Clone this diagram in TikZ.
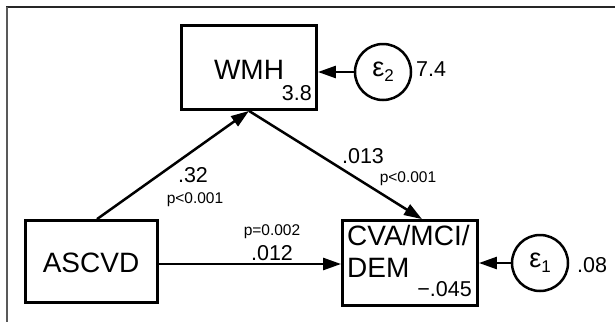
\documentclass[tikz,border=0pt]{standalone}
\usepackage{fontspec}
\setmainfont{Liberation Sans}
\usetikzlibrary{arrows.meta}
\begin{document}
\begin{tikzpicture}[x=1pt,y=-1pt,
  box/.style={draw, line width=2.8pt, inner sep=0pt},
  errc/.style={draw, circle, line width=2.5pt, inner sep=0pt, minimum size=56pt},
  lbl/.style={inner sep=0pt, font=\fontsize{28}{28}\selectfont},
  num/.style={inner sep=0pt, font=\fontsize{21.5}{21.5}\selectfont},
  pval/.style={inner sep=0pt, font=\fontsize{15.5}{15.5}\selectfont},
  arr/.style={line width=2.5pt, -{Triangle[length=18pt,width=12pt]}}]
\useasboundingbox (0,0) rectangle (615,322);
% frame
\draw[line width=2pt, black!85] (6,7) -- (615,7);
\draw[line width=2pt, black!65] (7,7) -- (7,322);
% boxes
\node[box, minimum width=135pt, minimum height=84pt] (wmh) at (249,67.5) {};
\node[box, minimum width=132pt, minimum height=82pt] (asc) at (91.5,261.5) {};
\node[box, minimum width=135pt, minimum height=85pt] (cva) at (410,263) {};
% box texts
\node[lbl, anchor=base] (tWMH) at (249,79) {WMH};
\node[num, anchor=base east] (v38) at (312,100) {3.8};
\node[lbl, anchor=base] (tASC) at (91,272) {ASCVD};
\node[lbl, anchor=base west] (tCVA1) at (347,245) {CVA/MCI/};
\node[lbl, anchor=base west] (tCVA2) at (347,277) {DEM};
\node[num, anchor=base east] (v045) at (472,296) {−.045};
% error terms
\node[errc] (e2) at (383,72) {\fontsize{27}{27}\selectfont ε\raisebox{-5pt}{\fontsize{17}{17}\selectfont 2}};
\node[errc] (e1) at (540,263) {\fontsize{27}{27}\selectfont ε\raisebox{-5pt}{\fontsize{17}{17}\selectfont 1}};
\node[num, anchor=base west] (v74) at (416,76) {7.4};
\node[num, anchor=base west] (v08) at (577,272) {.08};
% connectors
\draw[arr] ([xshift=5.5pt]asc.north) -- (wmh.south);
\draw[arr] (wmh.south) -- ([xshift=12pt]cva.north);
\draw[arr] ([yshift=-2.5pt]asc.east) -- ([yshift=-2.5pt]asc.east -| cva.west);
\draw[arr] (e2) -- (e2 -| wmh.east);
\draw[arr] (e1) -- (e1 -| cva.east);
% path labels
\node[num, anchor=base] (c32) at (193,182) {.32};
\node[pval, anchor=base] (p1) at (195,203) {p<0.001};
\node[num, anchor=base] (c013) at (363,163) {.013};
\node[pval, anchor=base] (p2) at (408,182) {p<0.001};
\node[pval, anchor=base] (p3) at (272,235) {p=0.002};
\node[num, anchor=base] (c012) at (272,260) {.012};
\end{tikzpicture}
\end{document}
